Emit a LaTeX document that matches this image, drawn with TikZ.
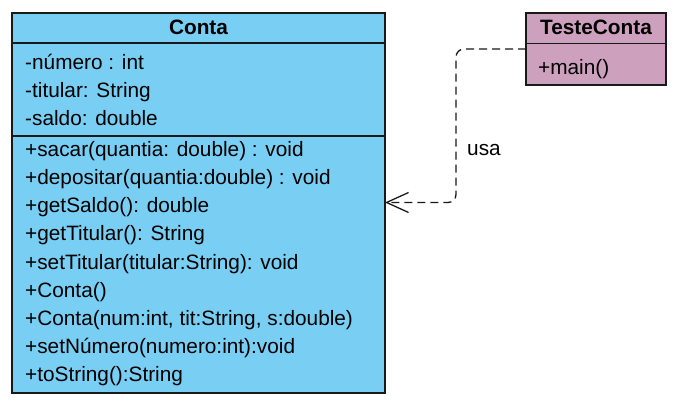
\documentclass[tikz,border=0pt]{standalone}
\usepackage{fontspec}
\setmainfont{Liberation Sans}
\usetikzlibrary{arrows.meta}
\definecolor{contablue}{RGB}{120,206,243}
\definecolor{testepink}{RGB}{205,160,190}
\definecolor{edge}{RGB}{25,25,25}
\begin{document}
\begin{tikzpicture}[x=1pt,y=-1pt,
  classbox/.style={draw=edge, line width=1.5pt, outer sep=0pt, inner sep=0pt, anchor=north west},
  member/.style={anchor=base west, inner sep=0pt, font=\fontsize{20.8}{25}\selectfont},
  title/.style={anchor=base, inner sep=0pt, font=\fontsize{20.8}{25}\selectfont\bfseries},
  sep/.style={draw=edge, line width=1.5pt},
  dep/.style={draw=edge, line width=1.3pt, dash pattern=on 8pt off 5pt, rounded corners=8pt,
    -{Straight Barb[length=22pt, width=20pt, line width=1.3pt]}}
]
\useasboundingbox (0,0) rectangle (677,401);

% Conta class
\node[classbox, fill=contablue, minimum width=373pt, minimum height=380pt] (conta) at (12,13) {};
\draw[sep] ([yshift=-30pt]conta.north west) -- ([yshift=-30pt]conta.north east);
\draw[sep] ([yshift=-123pt]conta.north west) -- ([yshift=-123pt]conta.north east);
\node[title] (contat) at (198.5,35) {Conta};
\node[member] (a1) at (25,69.3) {-número : int};
\node[member] (a2) at (25,97.4) {-titular: String};
\node[member] (a3) at (25,125.5) {-saldo: double};
\node[member] (m1) at (25,156.2) {+sacar(quantia: double) : void};
\node[member] (m2) at (25,184.4) {+depositar(quantia:double) : void};
\node[member] (m3) at (25,212.6) {+getSaldo(): double};
\node[member] (m4) at (25,240.8) {+getTitular(): String};
\node[member] (m5) at (25,269.0) {+setTitular(titular:String): void};
\node[member] (m6) at (25,297.2) {+Conta()};
\node[member] (m7) at (25,325.4) {+Conta(num:int, tit:String, s:double)};
\node[member] (m8) at (25,353.6) {+setNúmero(numero:int):void};
\node[member] (m9) at (25,381.8) {+toString():String};

% TesteConta class
\node[classbox, fill=testepink, minimum width=140pt, minimum height=72pt] (teste) at (526,13) {};
\draw[sep] ([yshift=-30.5pt]teste.north west) -- ([yshift=-30.5pt]teste.north east);
\node[title] (testet) at (596,35) {TesteConta};
\node[member] (tm1) at (538,75) {+main()};

% dependency
\coordinate (dstart) at ([yshift=-36pt]teste.north west);
\coordinate (dend) at ([yshift=-189.5pt]conta.north east);
\draw[dep] (dstart) -- (456,49) -- (456,202.5) -- (dend);
\node[member] (usa) at (467,156) {usa};
\end{tikzpicture}
\end{document}
